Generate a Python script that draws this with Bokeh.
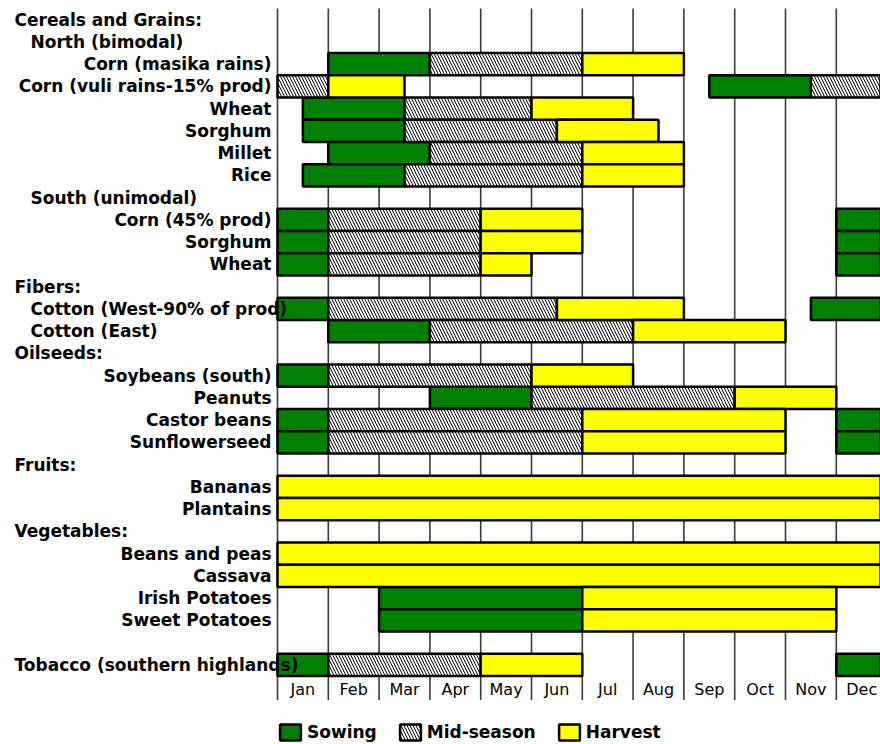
from bokeh.plotting import figure
from bokeh.models import Range1d, ColumnDataSource, Legend, LegendItem
from bokeh.core.properties import value
from bokeh.embed import file_html
from bokeh.resources import INLINE

# ---------------- data ----------------
months = ["Jan", "Feb", "Mar", "Apr", "May", "Jun",
          "Jul", "Aug", "Sep", "Oct", "Nov", "Dec"]

row_labels = [
    "Cereals and Grains:", "North (bimodal)", "Corn (masika rains)",
    "Corn (vuli rains-15% prod)", "Wheat", "Sorghum", "Millet", "Rice",
    "South (unimodal)", "Corn (45% prod)", "Sorghum", "Wheat",
    "Fibers:", "Cotton (West-90% of prod)", "Cotton (East)",
    "Oilseeds:", "Soybeans (south)", "Peanuts", "Castor beans", "Sunflowerseed",
    "Fruits:", "Bananas", "Plantains",
    "Vegetables:", "Beans and peas", "Cassava", "Irish Potatoes", "Sweet Potatoes",
    "", "Tobacco (southern highlands)",
]
# head = section title, sub = indented left text, item = right aligned crop name
row_kind = [
    "head", "sub", "item", "item", "item", "item", "item", "item",
    "sub", "item", "item", "item",
    "head", "sub", "sub",
    "head", "item", "item", "item", "item",
    "head", "item", "item",
    "head", "item", "item", "item", "item",
    "item", "head",
]

# phases: row index, start month, end month (0 = start of Jan)
sow_row   = [2, 3,   4,   5,   6, 7,   9, 9,  10, 10, 11, 11, 13, 13,   14, 16, 17, 18, 18, 19, 19, 26, 27, 29, 29]
sow_start = [1, 8.5, 0.5, 0.5, 1, 0.5, 0, 11, 0,  11, 0,  11, 0,  10.5, 1,  0,  3,  0,  11, 0,  11, 2,  2,  0,  11]
sow_end   = [3, 10.5, 2.5, 2.5, 3, 2.5, 1, 12, 1, 12, 1,  12, 1,  12,   3,  1,  5,  1,  12, 1,  12, 6,  6,  1,  12]

mid_row   = [2, 3, 3,    4,   5,   6, 7,   9, 10, 11, 13,  14, 16, 17, 18, 19, 29]
mid_start = [3, 0, 10.5, 2.5, 2.5, 3, 2.5, 1, 1,  1,  1,   3,  1,  5,  1,  1,  1]
mid_end   = [6, 1, 12,   5,   5.5, 6, 6,   4, 4,  4,  5.5, 7,  5,  9,  6,  6,  4]

harv_row   = [2, 3,   4, 5,   6, 7, 9, 10, 11, 13,  14, 16, 17, 18, 19, 21, 22, 24, 25, 26, 27, 29]
harv_start = [6, 1,   5, 5.5, 6, 6, 4, 4,  4,  5.5, 7,  5,  9,  6,  6,  0,  0,  0,  0,  6,  6,  4]
harv_end   = [8, 2.5, 7, 7.5, 8, 8, 6, 6,  5,  8,   10, 7,  11, 10, 10, 12, 12, 12, 12, 11, 11, 6]

phase_names = ["Sowing", "Mid-season", "Harvest"]

# ---------------- layout ----------------
W, H = 880, 744
PX_MONTH = 50.8
PX_ROW = 22.25
JAN_PX = 277.0                      # Jan boundary, px from figure left
TOP_PX = 8.0                        # top of first row, px from figure top
x_start = -JAN_PX / PX_MONTH
x_end = x_start + W / PX_MONTH
y_top = -0.5 - TOP_PX / PX_ROW
y_bottom = y_top + H / PX_ROW

p = figure(width=W, height=H,
           x_range=Range1d(x_start, x_end),
           y_range=Range1d(y_bottom, y_top),
           x_axis_type=None, y_axis_type=None,
           output_backend="svg", toolbar_location=None,
           min_border=0)
p.outline_line_color = None
p.background_fill_color = "white"
p.border_fill_color = "white"

n_rows = len(row_labels)
# month boundary lines (run down through the month-label strip)
bounds = list(range(len(months) + 1))
p.segment(x0=bounds, x1=bounds,
          y0=[-0.5] * len(bounds),
          y1=[n_rows - 0.5 + 1.08] * len(bounds),
          line_color="#3a3a3a", line_width=1.6)

bar_kw = dict(height=1.0, line_color="black", line_width=2.5)
r_sow = p.hbar(y=sow_row, left=sow_start, right=sow_end,
               fill_color="#008000", **bar_kw)
r_mid = p.hbar(y=mid_row, left=mid_start, right=mid_end,
               fill_color="white", hatch_pattern="\\", hatch_color="black",
               hatch_scale=6, hatch_weight=1, **bar_kw)
r_harv = p.hbar(y=harv_row, left=harv_start, right=harv_end,
                fill_color="#FFFF00", **bar_kw)

# row labels
font = value("DejaVu Sans")
label_x = {"head": (14 - JAN_PX) / PX_MONTH,
           "sub": (30 - JAN_PX) / PX_MONTH,
           "item": (271 - JAN_PX) / PX_MONTH}
left_src = ColumnDataSource(dict(
    x=[label_x[k] for k in row_kind if k != "item"],
    y=[i for i, k in enumerate(row_kind) if k != "item"],
    t=[row_labels[i] for i, k in enumerate(row_kind) if k != "item"]))
right_src = ColumnDataSource(dict(
    x=[label_x["item"] for k in row_kind if k == "item"],
    y=[i for i, k in enumerate(row_kind) if k == "item"],
    t=[row_labels[i] for i, k in enumerate(row_kind) if k == "item"]))
txt_kw = dict(text_font=font, text_font_style="bold", text_font_size="17px",
              text_color="black", text_baseline="middle")
p.text(x="x", y="y", text="t", source=left_src, text_align="left", **txt_kw)
p.text(x="x", y="y", text="t", source=right_src, text_align="right", **txt_kw)

# month labels
p.text(x=[i + 0.5 for i in range(len(months))],
       y=[n_rows - 0.5 + 0.62] * len(months),
       text=months, text_align="center", text_baseline="middle",
       text_font=font, text_font_size="16px", text_color="black")

legend = Legend(items=[LegendItem(label=phase_names[0], renderers=[r_sow]),
                       LegendItem(label=phase_names[1], renderers=[r_mid]),
                       LegendItem(label=phase_names[2], renderers=[r_harv])],
                location=(int(JAN_PX), 2), orientation="horizontal",
                glyph_width=26, glyph_height=20, label_standoff=4, spacing=20,
                padding=0, margin=0, border_line_color=None,
                background_fill_alpha=0,
                label_text_font="DejaVu Sans", label_text_font_style="bold",
                label_text_font_size="17px", label_text_color="black",
                label_height=20)
p.add_layout(legend)

open("out.html", "w").write(file_html(p, INLINE))
